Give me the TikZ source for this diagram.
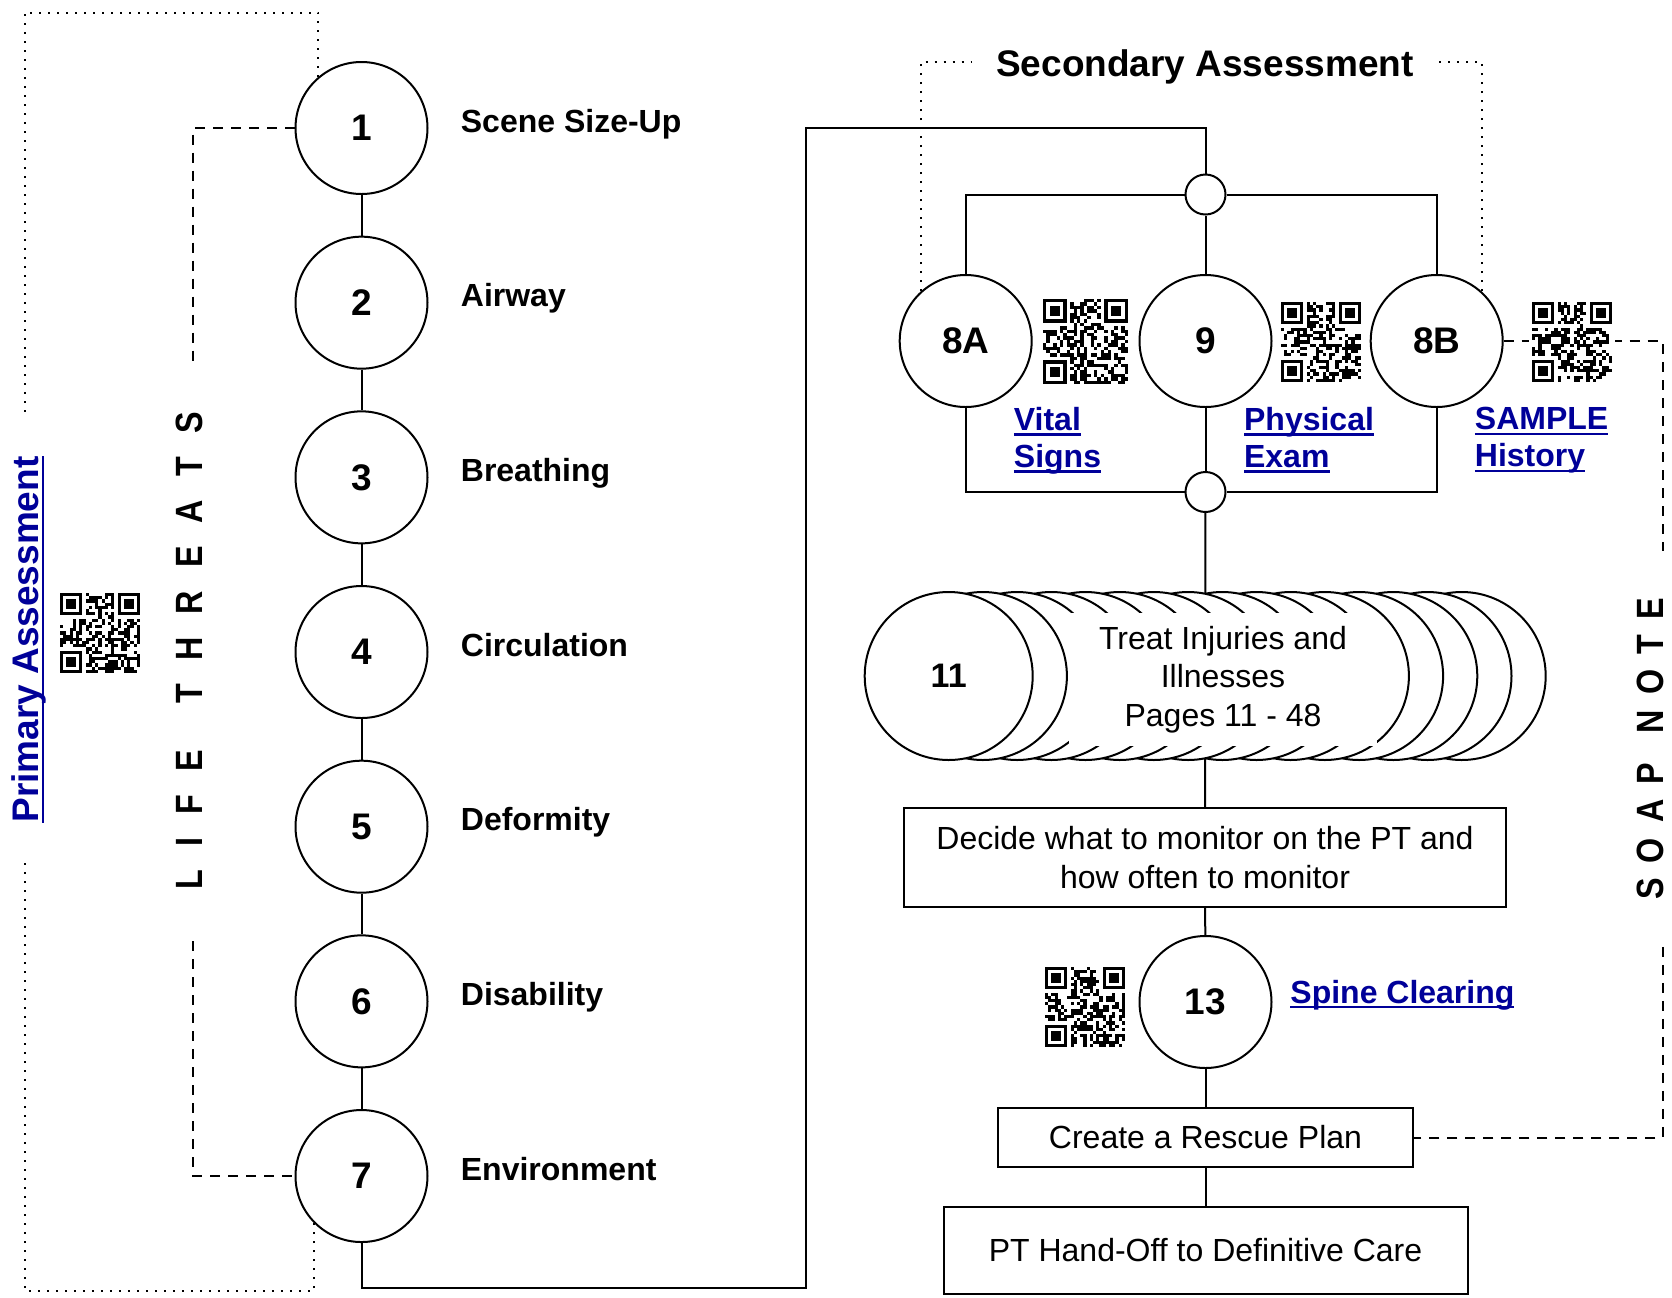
\documentclass[tikz,border=0pt]{standalone}
\usepackage{fontspec}
\setmainfont{Liberation Sans}
\newfontfamily\spacedsans[FakeStretch=0.85]{Liberation Sans}
\definecolor{linkblue}{RGB}{0,0,153}
\newsavebox{\ulbox}
\newcommand{\ulink}[1]{\sbox{\ulbox}{#1}\usebox{\ulbox}\llap{\rule[-2.5pt]{\wd\ulbox}{1.1pt}}}
\newcommand{\qrpatch}[4]{%
\begin{scope}[shift={(#1,#2)},scale=#3/25]
\fill[white] (-1,-1) rectangle (26,26);
\pgfmathsetseed{#4}
\foreach \i in {0,...,24}
\foreach \j in {0,...,24}{
\pgfmathsetmacro{\qrv}{rnd}
\ifdim\qrv pt<0.5pt \fill (\i,\j) rectangle +(1,1); \fi}
\foreach \fx/\fy/\wx/\wy in {0/0/0/0,18/0/17/0,0/18/0/17}{
\fill[white] (\wx,\wy) rectangle +(8,8);
\fill (\fx,\fy) rectangle +(7,7);
\fill[white] (\fx+1,\fy+1) rectangle +(5,5);
\fill (\fx+2,\fy+2) rectangle +(3,3);}
\end{scope}}

\begin{document}
\begin{tikzpicture}[x=0.5pt,y=-0.5pt,
circ/.style={circle,draw,line width=1pt,minimum size=66pt,inner sep=0pt,font=\fontsize{18.5}{22}\selectfont\bfseries},
jun/.style={circle,draw,line width=1pt,minimum size=20pt,inner sep=0pt},
disc/.style={circ,fill=white,minimum size=84pt,font=\fontsize{17}{20}\selectfont\bfseries},
box/.style={draw,line width=1pt,inner sep=0pt,align=center,font=\fontsize{16}{19.2}\selectfont},
lbl/.style={anchor=base west,inner sep=0pt,font=\fontsize{16}{19.2}\selectfont\bfseries},
hyper/.style={inner sep=0pt,align=left,text=linkblue,font=\fontsize{16}{18.5}\selectfont\bfseries},
wire/.style={line width=1pt},
dashline/.style={line width=1pt,dash pattern=on 5pt off 4pt},
dotline/.style={line width=1pt,dash pattern=on 1pt off 3.5pt},
spaced/.style={rotate=90,inner sep=0pt,font=\spacedsans\fontsize{19}{22}\selectfont\bfseries}]
\useasboundingbox (0,0) rectangle (1672,1297);

\begin{scope}
\foreach \n/\txt in {1/Scene Size-Up,2/Airway,3/Breathing,4/Circulation,5/Deformity,6/Disability,7/Environment}{
\node[circ] (c\n) at (361.5,{128+174.67*(\n-1)}) {\n};
\node[lbl] (t\n) at ([xshift=16pt,yshift=-2pt]c\n.east) {\txt};}
\foreach \a [evaluate=\a as \b using int(\a+1)] in {1,...,6}
\draw[wire] (c\a) -- (c\b);
\node[spaced,minimum width=290pt,text depth=3.6pt] (life) at (193,651) {\spaceskip=11.6pt\relax L I F E\ \ T H R E A T S};
\draw[dashline] (c1.west) -| (life.east);
\draw[dashline] (life.west) |- (c7.west);
\node[hyper,rotate=90,font=\fontsize{18.5}{22}\selectfont\bfseries,minimum width=223.5pt,text height=18.5pt,text depth=4pt] (prim) at (24.5,639.5) {\ulink{Primary Assessment}};
\coordinate (ptop) at (24.5,12.5);
\coordinate (pbot) at (24.5,1291);
\draw[dotline] (c1.130) |- (ptop) -- (prim.east);
\draw[dotline] (prim.west) -- (pbot) -| (c7.225);
\qrpatch{60}{593}{80}{7}
\end{scope}

\begin{scope}
\node[inner sep=0pt,minimum width=233pt,text height=18.5pt,text depth=3.9pt,font=\fontsize{18.5}{22}\selectfont\bfseries] (sec) at (1205,62) {Secondary Assessment};
\node[circ] (n8a) at (965.7,341) {8A};
\node[circ] (n9) at (1205.5,341) {9};
\node[circ] (n8b) at (1436.7,341) {8B};
\node[jun] (j1) at (1205.5,194.5) {};
\node[jun] (j2) at (1205.5,492) {};
\coordinate (bendA) at (806,1288);
\coordinate (bendB) at (806,128);
\draw[wire] (c7.south) |- (bendA) -- (bendB) -| (j1.north);
\draw[wire] (j1.west) -| (n8a.north);
\draw[wire] (j1.east) -| (n8b.north);
\draw[wire] (j1) -- (n9);
\draw[wire] (n8a.south) |- (j2.west);
\draw[wire] (n8b.south) |- (j2.east);
\draw[wire] (n9) -- (j2);
\draw[dotline] (n8a.132) |- (sec.west);
\draw[dotline] (n8b.48) |- (sec.east);
\node[hyper,anchor=north west] (vital) at (1013.5,407) {\ulink{Vital}\\\ulink{Signs}};
\node[hyper,anchor=north west] (exam) at (1243.7,407) {\ulink{Physical}\\\ulink{Exam}};
\node[hyper,anchor=north west] (history) at (1474.5,407) {\ulink{SAMPLE}\\\ulink{History}};
\qrpatch{1043}{299}{85}{23}
\qrpatch{1281}{302}{80}{37}
\end{scope}

\begin{scope}
\node[box,minimum width=301pt,minimum height=49.5pt] (decide) at (1205,857.5) {Decide what to monitor on the PT and\\how often to monitor};
\node[circ] (n13) at (1205.5,1002) {13};
\node[box,minimum width=207.5pt,minimum height=29.5pt] (rescue) at (1205.5,1137.5) {Create a Rescue Plan};
\node[box,minimum width=262pt,minimum height=43.5pt] (handoff) at (1205.5,1250.5) {PT Hand-Off to Definitive Care};
\draw[wire] (j2) -- (decide);
\draw[wire] (decide) -- (n13);
\draw[wire] (n13) -- (rescue);
\draw[wire] (rescue) -- (handoff);
\foreach \k in {15,14,...,1}
\node[disc] (d\k) at ({948.7+34.2*\k},676) {};
\node[disc] (d0) at (948.7,676) {11};
\node[fill=white,inner sep=0pt,align=center,minimum width=154pt,minimum height=66.5pt,font=\fontsize{16}{19.2}\selectfont] (treat) at (1223,679.5) {Treat Injuries and\\Illnesses\\Pages 11 - 48};
\node[hyper,anchor=base west] (spine) at (1290,1003) {\ulink{Spine Clearing}};
\qrpatch{1045}{967}{80}{53}
\node[spaced,minimum width=197.5pt] (soap) at (1650.5,749) {\spaceskip=7.5pt\relax S O A P\ \ N O T E};
\draw[dashline] (n8b.east) -| ([xshift=6.1pt]soap.east);
\draw[dashline] ([xshift=6.1pt]soap.west) |- (rescue.east);
\qrpatch{1532}{302}{80}{41}
\end{scope}

\end{tikzpicture}
\end{document}
